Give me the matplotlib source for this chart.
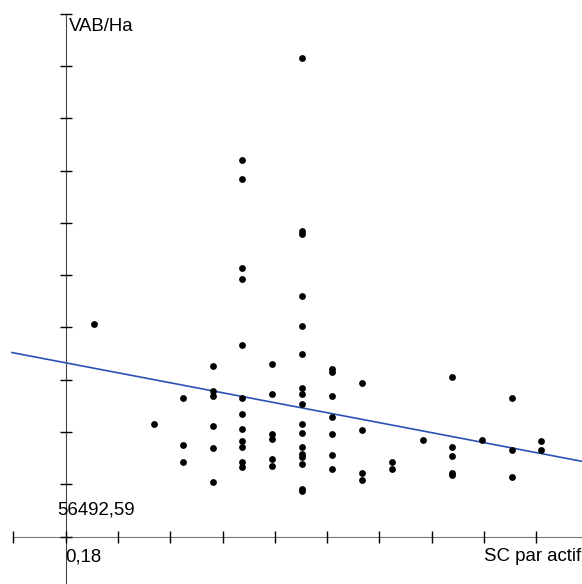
import matplotlib
matplotlib.use("Agg")
import matplotlib.pyplot as plt

# Scatter data: SC par actif vs VAB/Ha
sc = [0.235, 0.348,
      0.405, 0.405, 0.405,
      0.462, 0.462, 0.462, 0.462, 0.462, 0.462,
      0.518, 0.518, 0.518, 0.518, 0.518, 0.518, 0.518, 0.518, 0.518, 0.518, 0.518, 0.518,
      0.575, 0.575, 0.575, 0.575, 0.575, 0.575,
      0.632, 0.632, 0.632, 0.632, 0.632, 0.632, 0.632, 0.632, 0.632, 0.632, 0.632, 0.632,
      0.632, 0.632, 0.632, 0.632, 0.632,
      0.689, 0.689, 0.689, 0.689, 0.689, 0.689, 0.689,
      0.746, 0.746, 0.746, 0.746,
      0.803, 0.803,
      0.863,
      0.919, 0.919, 0.919, 0.919, 0.919,
      0.976,
      1.033, 1.033, 1.033,
      1.089, 1.089]
vab = [97100, 78000,
       83100, 74000, 70700,
       89100, 84400, 83400, 77700, 73400, 67000,
       128600, 124900, 107900, 105800, 93100, 83100, 80000, 77000, 74700, 73700, 70700, 69900,
       89500, 83700, 76100, 75100, 71400, 70100,
       148000, 114900, 114400, 102500, 96800, 91400, 84900, 83800, 81800, 78000, 76400, 73700,
       72300, 71700, 70400, 65700, 65200,
       88500, 88000, 83400, 79400, 76100, 72100, 69400,
       85800, 76800, 68700, 67300,
       70700, 69400,
       75000,
       87100, 73700, 72000, 68700, 68300,
       75000,
       83100, 73000, 68000,
       74700, 73100]

# trend line end points
line_x = [0.0773, 1.1672]
line_y = [91700, 70900]

x0, y0 = 0.18, 56492.59
x_ticks = [x0 + 0.1 * k for k in range(-1, 10)]
y_ticks = [y0 + 10000 * k for k in range(0, 11)]

plt.rcParams['font.family'] = ['Liberation Sans', 'DejaVu Sans']

fig = plt.figure(figsize=(5.82, 5.84), dpi=100)
ax = fig.add_axes([0, 0, 1, 1])
ax.set_xlim(0.0544, 1.1672)
ax.set_ylim(47449, 159110)

for s in ['top', 'right']:
    ax.spines[s].set_visible(False)
ax.spines['left'].set_position(('data', x0))
ax.spines['bottom'].set_position(('data', y0))
ax.spines['left'].set_color('#444444')
ax.spines['bottom'].set_color('#777777')
ax.spines['left'].set_bounds(47449, y_ticks[-1])
ax.spines['bottom'].set_bounds(x_ticks[0], 1.1672)
ax.spines['left'].set_zorder(1)
ax.spines['bottom'].set_zorder(1)

ax.set_xticks(x_ticks)
ax.set_yticks(y_ticks)
ax.set_xticklabels([])
ax.set_yticklabels([])
ax.tick_params(direction='inout', length=8.3, width=1, color='black')

ax.plot(line_x, line_y, color='#2a52b4', lw=1.2, zorder=2)
ax.plot(sc, vab, 'o', color='black', markersize=4.9, markeredgewidth=0, zorder=3)

fs = 13.4
fig.text(69 / 582, 1 - 31 / 584, 'VAB/Ha', fontsize=fs, va='baseline')
fig.text(57 / 582, 1 - 514.5 / 584, '56492,59', fontsize=fs, va='baseline')
fig.text(65.5 / 582, 1 - 561.5 / 584, '0,18', fontsize=fs, va='baseline')
fig.text(484 / 582, 1 - 561 / 584, 'SC par actif', fontsize=fs, va='baseline')

fig.savefig('out.png', dpi=100)
